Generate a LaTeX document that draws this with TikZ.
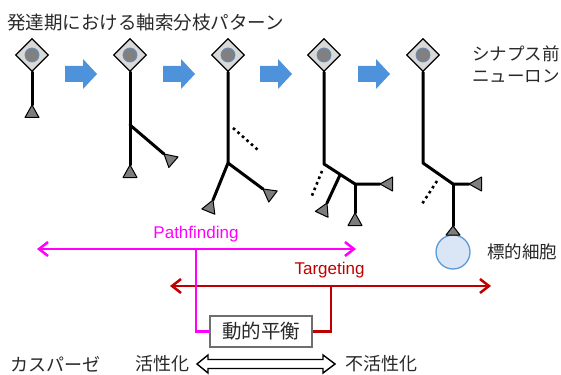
\documentclass[tikz,border=0pt]{standalone}
\usepackage{fontspec}
\setmainfont{Liberation Sans}
\newfontfamily\jpfont{Noto Sans CJK JP}
\usetikzlibrary{arrows.meta,shapes.geometric}

\definecolor{somafill}{RGB}{217,217,217}
\definecolor{nucfill}{RGB}{128,128,128}
\definecolor{nucedge}{RGB}{105,140,185}
\definecolor{btnfill}{RGB}{125,125,125}
\definecolor{stepblue}{RGB}{77,146,219}
\definecolor{pfmag}{RGB}{255,0,255}
\definecolor{tgred}{RGB}{192,0,0}
\definecolor{cellfill}{RGB}{218,230,245}
\definecolor{celledge}{RGB}{91,155,213}
\definecolor{txt}{RGB}{40,40,40}
\definecolor{boxedge}{RGB}{110,110,110}

\tikzset{
  soma/.style={diamond,draw=black,line width=1.3pt,fill=somafill,
    minimum width=33pt,minimum height=33pt,inner sep=0pt},
  nucleus/.style={circle,draw=nucedge,line width=0.8pt,fill=nucfill,
    minimum size=14pt,inner sep=0pt},
  axon/.style={line width=3pt,line cap=round,line join=round},
  dots/.style={line width=2.6pt,dash pattern=on 2.6pt off 3.4pt},
  bouton/.style={draw=black,line width=1pt,fill=btnfill,line join=round},
  stepblock/.style={fill=stepblue},
  jp/.style={font=\jpfont\fontsize{18}{21}\selectfont,text=txt,inner sep=0pt},
  lat/.style={font=\fontsize{17}{20}\selectfont,inner sep=0pt},
  barb/.tip={Straight Barb[length=9pt,width=14pt,line width=2.5pt]},
  pfline/.style={draw=pfmag,line width=2.5pt},
  tgline/.style={draw=tgred,line width=2.5pt},
  balance/.style={draw=boxedge,line width=1.2pt,fill=white,
    minimum width=102pt,minimum height=31pt,inner sep=0pt},
  target/.style={circle,draw=celledge,line width=1.3pt,fill=cellfill,
    minimum size=34pt,inner sep=0pt},
  hollow/.style={draw=black,line width=1.4pt,fill=white,line join=miter},
}

% terminal bouton: apex at (#1,#2), base turned by #3 degrees from straight down
\newcommand{\bouton}[3]{%
  \draw[bouton,shift={(#1,#2)},rotate=#3] (0,0) -- (-7,12.5) -- (7,12.5) -- cycle;}
% blue step arrow starting at x=#1
\newcommand{\stepArrow}[1]{%
  \fill[stepblock,shift={(#1,74)}] (0,-8) -- (18,-8) -- (18,-15) -- (32,0)
    -- (18,15) -- (18,8) -- (0,8) -- cycle;}

\begin{document}
\begin{tikzpicture}[x=1pt,y=-1pt]
\useasboundingbox (0,0) rectangle (561,374);

% title and labels
\node[jp,anchor=west,font=\jpfont\fontsize{18.5}{21}\selectfont] (title) at (7,23) {発達期における軸索分枝パターン};
\node[jp,anchor=west,align=left,font=\jpfont\fontsize{17.5}{22}\selectfont] (pre) at (472,64) {シナプス前\\ニューロン};

% somata
\foreach \i/\x in {1/32,2/130,3/228,4/324,5/423}{
  \node[soma] (s\i) at (\x,55) {};
  \node[nucleus] (n\i) at (s\i) {};
}

% step arrows
\stepArrow{65}
\stepArrow{163}
\stepArrow{260}
\stepArrow{358}

% neuron 1
\coordinate (e1) at (32,105);
\draw[axon] (s1.south) -- (e1);
\bouton{32}{105}{0}

% neuron 2
\coordinate (j2) at (130,125);
\coordinate (e2a) at (130,165);
\coordinate (e2b) at (164,154);
\draw[axon] (s2.south) -- (e2a);
\draw[axon] (j2) -- (e2b);
\bouton{130}{165}{0}
\bouton{164}{154}{49}

% neuron 3
\coordinate (j3) at (228,163);
\coordinate (e3a) at (213,200);
\coordinate (e3b) at (263,189);
\draw[axon] (s3.south) -- (j3) -- (e3a);
\draw[axon] (j3) -- (e3b);
\draw[dots] (233,128) -- (258,150);
\bouton{213}{200}{-22}
\bouton{263}{189}{53}

% neuron 4
\coordinate (j4) at (324,164);
\coordinate (m4) at (340,175);
\coordinate (k4) at (355,184);
\coordinate (e4a) at (327,203);
\coordinate (e4b) at (380,184);
\coordinate (e4c) at (355,213);
\draw[axon] (s4.south) -- (j4) -- (k4) -- (e4b);
\draw[axon] (m4) -- (e4a);
\draw[axon] (k4) -- (e4c);
\draw[dots] (322,171) -- (311,198);
\bouton{327}{203}{-25}
\bouton{380}{184}{90}
\bouton{355}{213}{0}

% neuron 5 and its target cell
\node[target] (cell) at (453,252) {};
\node[jp,anchor=west,font=\jpfont\fontsize{17.5}{21}\selectfont] (celltxt) at (487,252) {標的細胞};
\coordinate (j5) at (423,163);
\coordinate (k5) at (453,184);
\coordinate (e5a) at (469,184);
\coordinate (e5b) at (453,226);
\draw[axon] (s5.south) -- (j5) -- (k5) -- (e5a);
\draw[axon] (k5) -- (e5b);
\draw[dots] (437,181) -- (422,204);
\bouton{469}{184}{90}
\draw[bouton] (e5b) -- (446,235) -- (460,235) -- cycle;

% pathfinding / targeting ranges
\coordinate (pfL) at (37,249);
\coordinate (pfR) at (356,249);
\coordinate (pfJ) at (196,249);
\coordinate (tgL) at (170,286);
\coordinate (tgR) at (491,286);
\coordinate (tgJ) at (331,286);
\draw[pfline,barb-barb] (pfL) -- (pfR);
\node[lat,text=pfmag] (pftxt) at (196,234.5) {Pathfinding};
\draw[tgline,barb-barb] (tgL) -- (tgR);
\node[lat,text=tgred] (tgtxt) at (329.5,270.5) {Targeting};

\node[balance] (eq) at (261,331.5) {};
\draw[pfline] (pfJ) |- (eq.west);
\draw[tgline] (tgJ) |- (eq.east);
\node[jp,font=\jpfont\fontsize{19.5}{22}\selectfont] (eqtxt) at (eq) {動的平衡};

% caspase activity
\node[jp,anchor=west] (casp) at (10,364) {カスパーゼ};
\node[jp,anchor=east] (act) at (190,364) {活性化};
\node[jp,anchor=west] (inact) at (345,364) {不活性化};
\draw[hollow] (197,364) -- (208,355) -- (208,359.5) -- (323,359.5) -- (323,355)
  -- (335,364) -- (323,373) -- (323,368.5) -- (208,368.5) -- (208,373) -- cycle;

\end{tikzpicture}
\end{document}
